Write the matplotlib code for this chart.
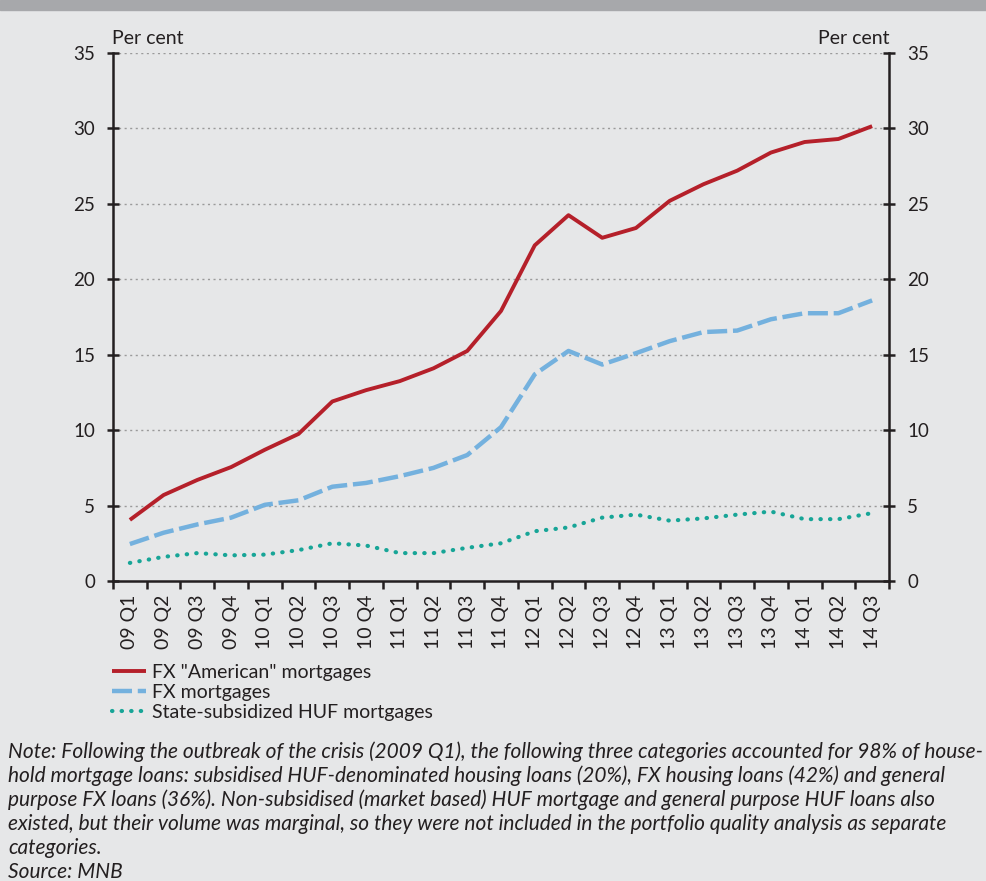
import matplotlib
matplotlib.use("Agg")
import matplotlib.pyplot as plt
import numpy as np

categories = ["09 Q1", "09 Q2", "09 Q3", "09 Q4", "10 Q1", "10 Q2", "10 Q3", "10 Q4",
              "11 Q1", "11 Q2", "11 Q3", "11 Q4", "12 Q1", "12 Q2", "12 Q3", "12 Q4",
              "13 Q1", "13 Q2", "13 Q3", "13 Q4", "14 Q1", "14 Q2", "14 Q3"]
fx_american = [4.05, 5.7, 6.7, 7.55, 8.7, 9.75, 11.9, 12.65, 13.25, 14.1, 15.25, 17.9,
               22.25, 24.25, 22.75, 23.4, 25.2, 26.3, 27.2, 28.4, 29.1, 29.3, 30.15]
fx_mortgages = [2.45, 3.2, 3.75, 4.2, 5.05, 5.35, 6.25, 6.5, 6.95, 7.5, 8.35, 10.2,
                13.7, 15.25, 14.35, 15.1, 15.9, 16.5, 16.6, 17.35, 17.75, 17.75, 18.6]
huf_subsidized = [1.2, 1.6, 1.85, 1.7, 1.75, 2.05, 2.5, 2.35, 1.85, 1.85, 2.2, 2.5,
                  3.3, 3.55, 4.2, 4.4, 4.0, 4.15, 4.4, 4.6, 4.1, 4.1, 4.5]
series_labels = ['FX "American" mortgages', 'FX mortgages', 'State-subsidized HUF mortgages']
yticks = [0, 5, 10, 15, 20, 25, 30, 35]

BG = "#e6e7e8"
TXT = "#231f20"
FONT = ["Lato", "DejaVu Sans"]
plt.rcParams["font.family"] = FONT
FS = 14

fig = plt.figure(figsize=(9.87, 8.81), dpi=100, facecolor=BG)
fig.patches.append(plt.Rectangle((0, 1 - 10 / 881), 1, 10 / 881, transform=fig.transFigure,
                                 color="#a7a8ab", zorder=0))

ax = fig.add_axes([113 / 987, 1 - 581 / 881, (889 - 113) / 987, (581 - 53) / 881])
ax.set_facecolor(BG)
x = np.arange(len(categories))

l1, = ax.plot(x, fx_american, color="#b5202a", lw=2.8, solid_capstyle="butt", zorder=3)
l2, = ax.plot(x, fx_mortgages, color="#74b1de", lw=3.2, dashes=(4.5, 1.3), zorder=3)
l3, = ax.plot(x, huf_subsidized, color="#17a597", lw=3.0, dashes=(0.1, 2.2),
              dash_capstyle="round", zorder=3)

ax.set_xlim(-0.5, len(categories) - 0.5)
ax.set_ylim(0, 35)
ax.set_yticks(yticks)
ax.set_xticks(x)
ax.set_xticklabels(categories, rotation=90, fontsize=FS, color=TXT)
ax.set_xticks(np.arange(-0.5, len(categories), 1), minor=True)
ax.tick_params(axis="x", which="major", length=0, pad=10)
ax.tick_params(axis="x", which="minor", length=6, width=1.8, direction="out", color=TXT)
ax.tick_params(axis="y", which="major", length=8, width=1.8, direction="inout",
               labelsize=13.5, labelcolor=TXT, color=TXT, pad=9,
               left=True, right=True, labelleft=True, labelright=True)

for s in ["left", "right", "bottom"]:
    ax.spines[s].set_linewidth(1.8)
    ax.spines[s].set_color(TXT)
ax.spines["top"].set_visible(False)

for yv in yticks[1:]:
    ax.axhline(yv, color="#9a9a9a", lw=1.0, ls=(0, (1.5, 2.5)), zorder=1)

fig.text(112 / 987, 1 - 38 / 881, "Per cent", fontsize=FS, color=TXT,
         ha="left", va="center")
fig.text(890 / 987, 1 - 38 / 881, "Per cent", fontsize=FS, color=TXT,
         ha="right", va="center")

leg = fig.legend([l1, l2, l3], series_labels, loc="upper left",
                 bbox_to_anchor=(112 / 987, 1 - 664 / 881), frameon=False,
                 fontsize=FS, handlelength=1.75, handletextpad=0.3,
                 labelspacing=0.16, borderaxespad=0, borderpad=0)
for t in leg.get_texts():
    t.set_color(TXT)

note_lines = [
    "Note: Following the outbreak of the crisis (2009 Q1), the following three categories accounted for 98% of house-",
    "hold mortgage loans: subsidised HUF-denominated housing loans (20%), FX housing loans (42%) and general",
    "purpose FX loans (36%). Non-subsidised (market based) HUF mortgage and general purpose HUF loans also",
    "existed, but their volume was marginal, so they were not included in the portfolio quality analysis as separate",
    "categories.",
    "Source: MNB",
]
for i, line in enumerate(note_lines):
    fig.text(8 / 987, 1 - (752 + i * 24) / 881, line, fontsize=15, style="italic",
             color=TXT, ha="left", va="center")

fig.savefig("out.png", dpi=100, facecolor=BG)
